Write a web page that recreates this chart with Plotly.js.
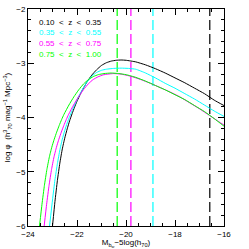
<!DOCTYPE html>
<html><head><meta charset="utf-8">
<script src="https://cdn.plot.ly/plotly-3.0.1.min.js"></script>
<style>html,body{margin:0;padding:0;background:#fff}#c{width:249px;height:249px}</style>
</head><body><div id="c"></div>
<script>
// z-bin labels and colours
const labels = ["0.10 < z < 0.35","0.35 < z < 0.55","0.55 < z < 0.75","0.75 < z < 1.00"];
const colors = ["#000000","#00ffff","#ff00ff","#00ff00"];
// completeness limits (vertical dashed lines)
const limitM = [-16.58, -18.9, -19.8, -20.36];

// luminosity function curves
const M_black = [-23.0,-22.9,-22.8,-22.7,-22.6,-22.5,-22.4,-22.3,-22.2,-22.1,-22.0,-21.8,-21.6,-21.4,-21.2,-21.0,-20.8,-20.6,-20.4,-20.2,-20.0,-19.6,-19.2,-18.8,-18.4,-18.0,-17.6,-17.2,-16.8,-16.4,-16.0];
const phi_black = [-6.00,-5.55,-5.16,-4.84,-4.58,-4.38,-4.21,-4.06,-3.93,-3.81,-3.70,-3.51,-3.35,-3.22,-3.12,-3.04,-2.99,-2.96,-2.945,-2.94,-2.945,-2.975,-3.03,-3.10,-3.18,-3.27,-3.36,-3.46,-3.56,-3.68,-3.78];

const M_cyan = [-23.12,-23.0,-22.9,-22.8,-22.7,-22.6,-22.5,-22.4,-22.3,-22.2,-22.1,-22.0,-21.8,-21.6,-21.4,-21.2,-21.0,-20.8,-20.5,-20.2,-19.9,-19.6,-19.2,-18.8,-18.4,-18.0,-17.6,-17.2,-16.8,-16.4,-16.0];
const phi_cyan = [-6.00,-5.52,-5.15,-4.85,-4.60,-4.40,-4.24,-4.10,-3.98,-3.87,-3.77,-3.67,-3.50,-3.35,-3.24,-3.17,-3.13,-3.11,-3.095,-3.09,-3.095,-3.11,-3.18,-3.27,-3.37,-3.46,-3.56,-3.66,-3.77,-3.88,-3.98];

const M_magenta = [-23.34,-23.24,-23.14,-23.04,-22.94,-22.84,-22.74,-22.64,-22.54,-22.44,-22.34,-22.14,-21.94,-21.74,-21.54,-21.34,-21.14,-20.94,-20.74,-20.5,-20.2,-19.8,-19.4,-19.0,-18.6,-18.2,-17.8,-17.4,-17.0,-16.6,-16.2,-16.0];
const phi_magenta = [-6.00,-5.60,-5.25,-4.96,-4.73,-4.55,-4.40,-4.27,-4.15,-4.04,-3.94,-3.77,-3.62,-3.49,-3.38,-3.30,-3.25,-3.215,-3.20,-3.19,-3.20,-3.24,-3.30,-3.37,-3.45,-3.53,-3.62,-3.73,-3.84,-3.96,-4.08,-4.14];

const M_green = [-23.53,-23.43,-23.33,-23.23,-23.13,-23.03,-22.93,-22.83,-22.73,-22.63,-22.53,-22.33,-22.13,-21.93,-21.73,-21.53,-21.33,-21.13,-20.9,-20.6,-20.3,-20.0,-19.6,-19.2,-18.8,-18.4,-18.0,-17.6,-17.2,-16.8,-16.4,-16.0];
const phi_green = [-6.00,-5.60,-5.25,-4.96,-4.73,-4.55,-4.40,-4.27,-4.15,-4.04,-3.94,-3.77,-3.62,-3.49,-3.38,-3.30,-3.245,-3.21,-3.19,-3.18,-3.19,-3.21,-3.26,-3.33,-3.41,-3.49,-3.58,-3.67,-3.78,-3.89,-4.02,-4.16];

const Ms = [M_black, M_cyan, M_magenta, M_green];
const phis = [phi_black, phi_cyan, phi_magenta, phi_green];

const yRange = [-6, -2];
const xRange = [-24, -16];

const traces = [];
limitM.forEach((m,i)=>{
  traces.push({x:[m,m], y:yRange, mode:'lines', line:{color:colors[i], width:1.2, dash:'10px,4px'}, hoverinfo:'skip', showlegend:false});
});
Ms.forEach((m,i)=>{
  traces.push({x:m, y:phis[i], mode:'lines', line:{color:colors[i], width:1, shape:'spline', smoothing:0.4}, showlegend:false});
});

const nb = s => s.replace(/ /g,'\u00a0\u00a0');
const annotations = labels.map((t,i)=>({
  x:0.045, y:0.94 - i*0.05, xref:'paper', yref:'paper', xanchor:'left', yanchor:'middle',
  text:nb(t), showarrow:false, font:{family:'Liberation Sans, Arial', size:8, color:colors[i]}
}));

const axisCommon = {
  showline:true, linecolor:'#000', linewidth:1, mirror:'allticks', ticks:'inside', ticklen:6, tickcolor:'#000', tickwidth:1,
  showgrid:false, zeroline:false, tickfont:{family:'Liberation Sans, Arial', size:8, color:'#000'}
};

const layout = {
  width:249, height:249, margin:{l:28, r:25, t:9, b:23}, paper_bgcolor:'#fff', plot_bgcolor:'#fff',
  showlegend:false,
  xaxis:Object.assign({}, axisCommon, {range:xRange, dtick:2, tick0:-24,
    minor:{dtick:0.5, ticks:'inside', ticklen:3, tickcolor:'#000', showgrid:false},
    title:{text:'M<sub>b<sub>w</sub></sub>\u22125log(h<sub>70</sub>)', font:{family:'Liberation Sans, Arial', size:8, color:'#000'}, standoff:2}}),
  yaxis:Object.assign({}, axisCommon, {range:yRange, dtick:1, tick0:-6,
    minor:{dtick:0.2, ticks:'inside', ticklen:3, tickcolor:'#000', showgrid:false},
    title:{text:'log \u03c6  (h<sup>3</sup><sub>70</sub> mag<sup>\u22121</sup> Mpc<sup>\u22123</sup>)', font:{family:'Liberation Sans, Arial', size:8, color:'#000'}, standoff:4}}),
  annotations:annotations
};

Plotly.newPlot('c', traces, layout, {staticPlot:true, displayModeBar:false});
</script></body></html>
